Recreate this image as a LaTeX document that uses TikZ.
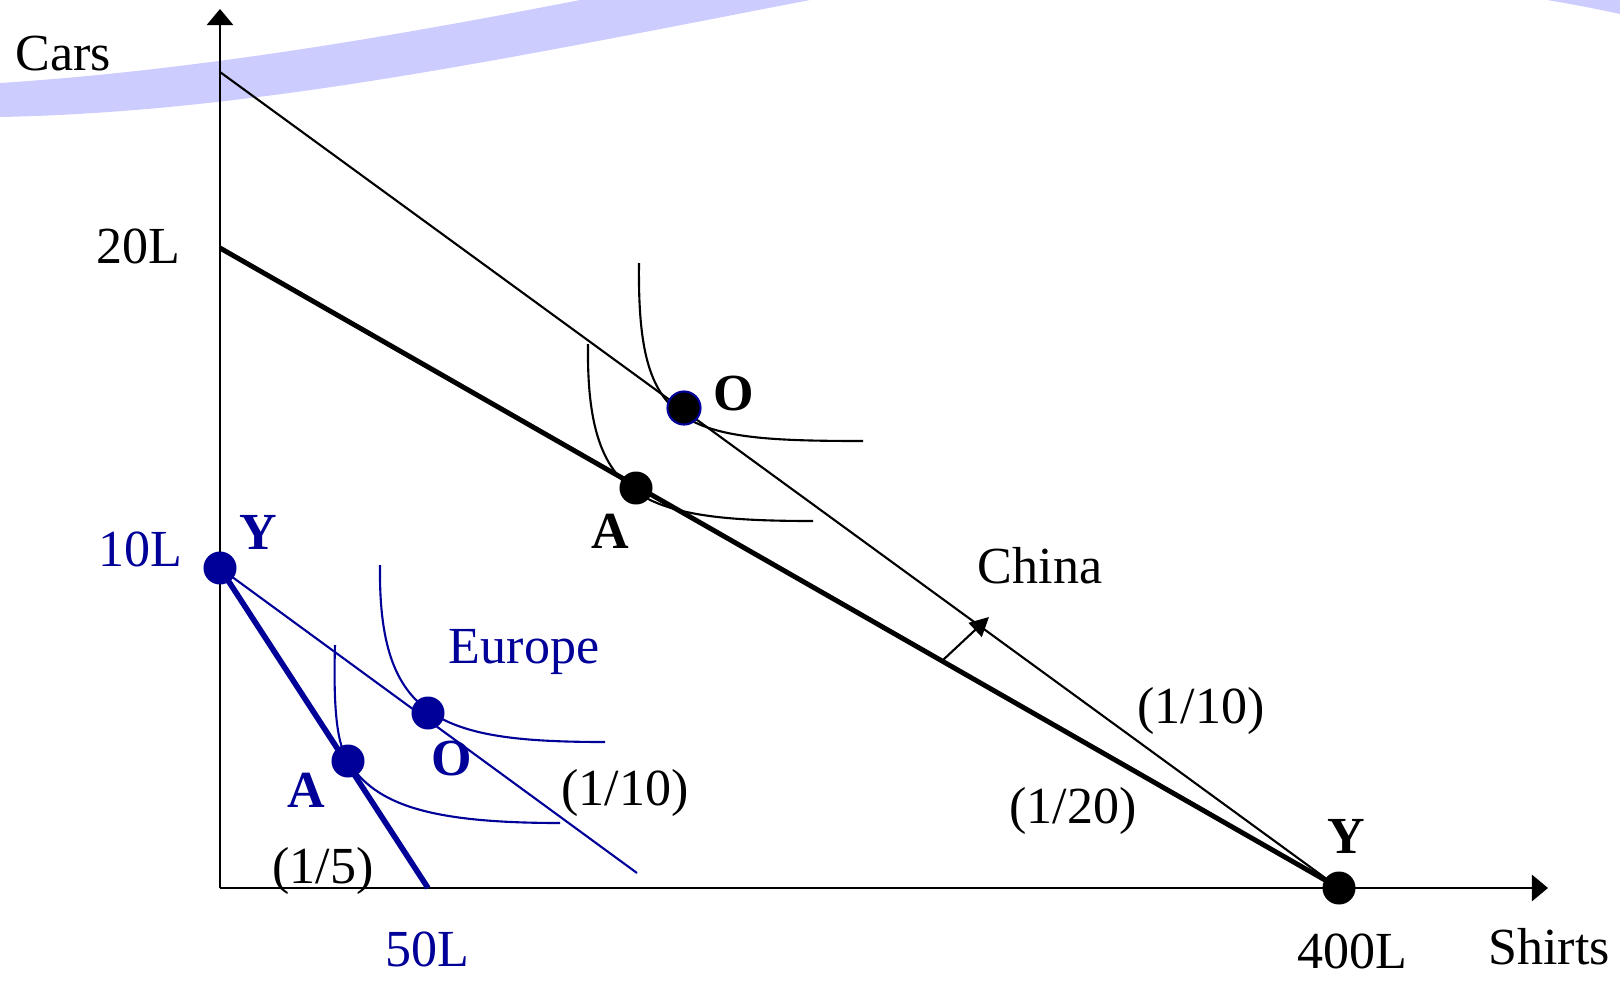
\documentclass[tikz,border=0pt]{standalone}
\usepackage{fontspec}
\setmainfont{Liberation Serif}
\usetikzlibrary{arrows.meta, positioning}
\definecolor{euroblue}{RGB}{0,0,153}
\definecolor{bandlilac}{RGB}{204,204,255}

\begin{document}
\begin{tikzpicture}[
  x=0.01cm, y=-0.01cm,
  every node/.style={font=\fontsize{14.8}{17}\selectfont, inner sep=0pt},
  axis/.style={line width=0.75pt, -{Triangle[length=0.16cm, width=0.26cm]}},
  budget/.style={line width=0.6pt},
  trade/.style={line width=1.4pt},
  indiff/.style={line width=0.6pt},
  dot/.style={circle, fill=black, inner sep=0pt, minimum size=0.33cm},
  eudot/.style={dot, fill=euroblue},
  lbl/.style={anchor=base},
  pt/.style={anchor=base, font=\fontsize{14.8}{17}\selectfont\bfseries}
]
\useasboundingbox (0,0) rectangle (1620,984);

% lilac band at the top
\begin{scope}
  \clip (0,0) rectangle (1620,984);
  \fill[bandlilac] (0,117) .. controls (250,112) and (500,60) .. (810,0)
    .. controls (1000,-37) and (1350,-45) .. (1620,14) -- (1620,-60)
    .. controls (1350,-110) and (850,-40) .. (580,0)
    .. controls (400,35) and (200,70) .. (0,83) -- cycle;
\end{scope}

% axes
\coordinate (orig) at (220,888);
\coordinate (ytip) at (220,9);
\coordinate (xtip) at (1548,888);
\draw[axis] (orig) -- (ytip);
\draw[axis] (orig) -- (xtip);

% China
\coordinate (cTop) at (220,72);
\coordinate (cMid) at (220,248);
\coordinate (cY) at (1339,888);
\coordinate (cO) at (684,408);
\coordinate (cA) at (636,488);
\coordinate (shiftA) at (943,660);
\coordinate (shiftB) at (989,617);
\draw[budget] (cTop) -- (cY);
\draw[trade] (cMid) -- (cY);
\draw[indiff] (639,263) .. controls (637,430) and (680,441) .. (863,441);
\draw[indiff] (588,344) .. controls (586,500) and (640,521) .. (813,521);
\draw[budget, -{Triangle[length=0.19cm, width=0.19cm]}] (shiftA) -- (shiftB);

% Europe
\coordinate (eY) at (220,568);
\coordinate (eEnd) at (637,873);
\coordinate (eX) at (428,888);
\coordinate (eO) at (428,713);
\coordinate (eA) at (348,761);
\draw[budget, euroblue] (eY) -- (eEnd);
\draw[trade, euroblue, line width=1.6pt] (eY) -- (eX);
\draw[indiff, euroblue] (380,565) .. controls (378,720) and (440,742) .. (605,742);
\draw[indiff, euroblue] (335,645) .. controls (333,715) and (338,745) .. (eA)
  .. controls (375,805) and (430,823) .. (560,823);

% points
\node[dot, draw=euroblue, line width=0.6pt] (dcO) at (cO) {};
\node[dot] (dcA) at (cA) {};
\node[dot] (dcY) at (cY) {};
\foreach \p in {eY, eO, eA}
  \node[eudot] (d\p) at (\p) {};

% labels
\node[lbl] (cars) at (63,70) {Cars};
\node[lbl] (lab20) at (138,263) {20L};
\node[lbl] (shirts) at (1549,964) {Shirts};
\node[lbl] (lab400) at (1352,968) {400L};
\node[lbl] (china) at (1040,583) {China};
\node[lbl] (cRateA) at (1201,723) {(1/10)};
\node[lbl] (cRateB) at (1073,823) {(1/20)};
\node[pt] (cOlab) at (734,410) {O};
\node[pt] (cAlab) at (610,548) {A};
\node[pt] (cYlab) at (1346,853) {Y};

\node[lbl, euroblue] (lab10) at (140,566) {10L};
\node[lbl, euroblue] (lab50) at (427,966) {50L};
\node[lbl, euroblue] (europe) at (524,663) {Europe};
\node[lbl] (eRateA) at (625,805) {(1/10)};
\node[lbl] (eRateB) at (323,883) {(1/5)};
\node[pt, euroblue] (eYlab) at (258,549) {Y};
\node[pt, euroblue] (eOlab) at (452,775) {O};
\node[pt, euroblue] (eAlab) at (306,807) {A};

\end{tikzpicture}
\end{document}
